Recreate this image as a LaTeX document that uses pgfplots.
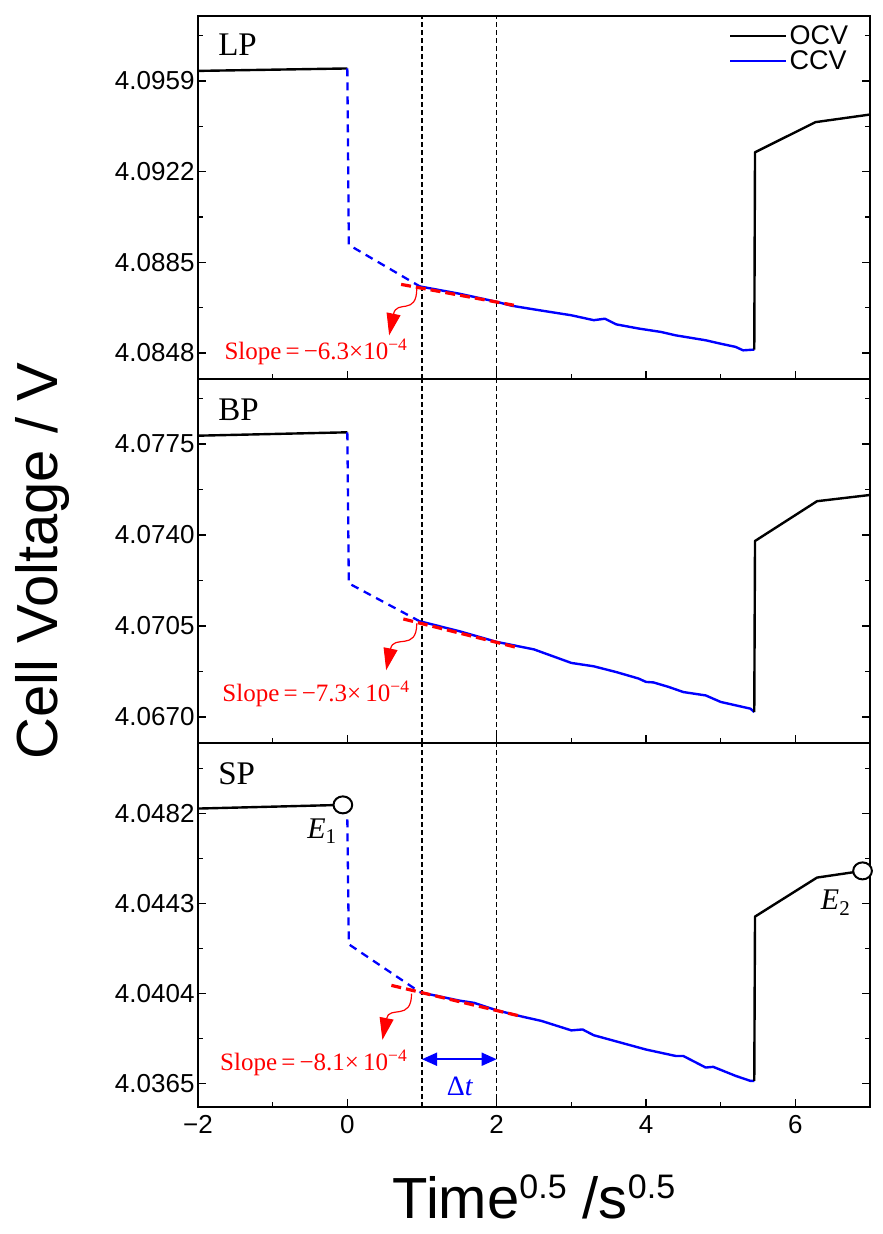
\documentclass[border=0pt]{standalone}
\usepackage{fontspec}
\setmainfont{Liberation Sans}
\newfontfamily\serif{Liberation Serif}
\usepackage{pgfplots}
\pgfplotsset{compat=1.18}
\usetikzlibrary{arrows.meta}

\newcommand\sups[1]{\raisebox{20bp}{\fontsize{34bp}{34bp}\selectfont #1}}

\pgfplotsset{
 panel/.style={
  scale only axis, width=672bp, height=364bp,
  xmin=-2, xmax=7,
  xtick={-2,0,2,4,6}, minor xtick={-1,1,3,5},
  xtick pos=left,
  major tick length=8bp, minor tick length=5bp,
  every tick/.style={black, line width=1.4bp},
  every minor tick/.style={black, line width=1.4bp},
  axis line style={line width=1.9bp},
  tick label style={font=\fontsize{26bp}{30bp}\selectfont},
  xticklabel style={yshift=-5bp},
  clip=false,
 },
}
\tikzset{
 ocv/.style={black, line width=2.4bp, line join=round},
 ccv/.style={blue, line width=2.4bp, line join=round},
 ccvd/.style={blue, line width=2.3bp, dash pattern=on 8bp off 6bp},
 fit/.style={red, line width=3.2bp, dash pattern=on 10bp off 5bp},
 vref/.style={black, line width=1.1bp, dash pattern=on 5bp off 3bp},
 slopetxt/.style={red, font=\serif\fontsize{25bp}{28bp}\selectfont},
 paneltxt/.style={anchor=west, font=\serif\fontsize{33bp}{36bp}\selectfont},
 redarrow/.style={red, line width=1.2bp, -{Triangle[width=14bp,length=22bp]}},
}

\begin{document}
\begin{tikzpicture}
% ---------------- LP ----------------
\begin{axis}[panel, name=lp, at={(0,0)}, anchor=north west, height=363bp,
  ymin=4.08374, ymax=4.09855,
  ytick={4.0848,4.0885,4.0922,4.0959},
  yticklabels={4.0848,4.0885,4.0922,4.0959},
  minor ytick={4.08665,4.09035,4.09405,4.09775},
  xticklabels={},
  legend style={at={(0.975,0.985)}, anchor=north east, draw=none, fill=none,
    font=\fontsize{27bp}{30bp}\selectfont, row sep=1bp, cells={anchor=west}},
  legend image code/.code={\draw[#1] (0bp,0bp) -- (56bp,0bp);},
]
\addlegendimage{ocv}\addlegendentry{OCV}
\addlegendimage{ccv}\addlegendentry{CCV}
\addplot[vref, forget plot] coordinates {(1,4.08374) (1,4.09855)};
\addplot[vref, forget plot] coordinates {(2,4.08374) (2,4.09855)};
\addplot[ocv, forget plot] coordinates {(-2,4.09631) (0,4.09641)};
\addplot[ccvd, forget plot] coordinates {(0,4.09641) (0.02,4.08921) (0.97,4.08752)};
\addplot[ccv, forget plot] coordinates {
 (0.97,4.08752) (1,4.0875) (1.5,4.08722) (2,4.08689) (2.2,4.08673) (2.5,4.08658)
 (3,4.08634) (3.3,4.08614) (3.45,4.0862) (3.6,4.08597) (3.9,4.0858) (4.2,4.08566)
 (4.4,4.08552) (4.8,4.08532) (5.0,4.08518) (5.2,4.08505) (5.3,4.08491) (5.45,4.08494)};
\addplot[ocv, forget plot] coordinates {(5.45,4.08494) (5.46,4.09299) (6.27,4.09422) (7,4.09453)};
\addplot[fit, forget plot] coordinates {(0.72,4.0876) (2.23,4.08675)};
\draw[redarrow] (axis cs:0.93,4.08744) .. controls (axis cs:0.93,4.0863) and (axis cs:0.66,4.0870) .. (axis cs:0.56,4.08552);
\node[slopetxt] at (axis cs:-0.42,4.08484) {Slope\,=\,−6.3×10\textsuperscript{−4}};
\node[paneltxt] at (rel axis cs:0.025,0.92) {LP};
\end{axis}

% ---------------- BP ----------------
\begin{axis}[panel, name=bp, at={(lp.south west)}, anchor=north west,
  ymin=4.0660, ymax=4.0800,
  ytick={4.0670,4.0705,4.0740,4.0775},
  yticklabels={4.0670,4.0705,4.0740,4.0775},
  minor ytick={4.06875,4.07225,4.07575,4.07925},
  xticklabels={},
]
\addplot[vref] coordinates {(1,4.0660) (1,4.0800)};
\addplot[vref] coordinates {(2,4.0660) (2,4.0800)};
\addplot[ocv] coordinates {(-2,4.07782) (0,4.07795)};
\addplot[ccvd] coordinates {(0,4.07795) (0.02,4.07214) (0.97,4.07068)};
\addplot[ccv] coordinates {
 (0.97,4.07068) (1,4.07066) (1.5,4.0703) (2,4.06989) (2.5,4.0696) (3,4.06908)
 (3.3,4.06895) (3.6,4.06873) (3.9,4.06848) (4.0,4.06835) (4.1,4.06833) (4.3,4.06816)
 (4.5,4.06796) (4.8,4.06783) (5.0,4.06758) (5.2,4.06745) (5.4,4.06732) (5.45,4.06719)};
\addplot[ocv] coordinates {(5.45,4.06719) (5.46,4.07377) (6.29,4.0753) (7,4.07554)};
\addplot[fit] coordinates {(0.75,4.07077) (2.25,4.06969)};
\draw[redarrow] (axis cs:0.93,4.0706) .. controls (axis cs:0.93,4.0695) and (axis cs:0.62,4.0702) .. (axis cs:0.52,4.0688);
\node[slopetxt] at (axis cs:-0.42,4.0679) {Slope\,=\,−7.3×\,10\textsuperscript{−4}};
\node[paneltxt] at (rel axis cs:0.025,0.915) {BP};
\end{axis}

% ---------------- SP ----------------
\begin{axis}[panel, name=sp, at={(bp.south west)}, anchor=north west,
  ymin=4.03549, ymax=4.05126,
  ytick={4.0365,4.0404,4.0443,4.0482},
  yticklabels={4.0365,4.0404,4.0443,4.0482},
  minor ytick={4.03845,4.04235,4.04625,4.05015},
  xticklabels={−2,0,2,4,6},
  xlabel={Time\sups{0.5} /s\sups{0.5}},
  xlabel style={font=\fontsize{58bp}{64bp}\selectfont, at={(rel axis cs:0.5,0)}, anchor=base, yshift=-111bp},
]
\addplot[vref] coordinates {(1,4.03549) (1,4.05126)};
\addplot[vref] coordinates {(2,4.03549) (2,4.05126)};
\addplot[ocv] coordinates {(-2,4.04842) (-0.06,4.04858)};
\addplot[ccvd] coordinates {(0,4.04795) (0.02,4.04254) (0.97,4.04047)};
\addplot[ccv] coordinates {
 (0.97,4.04047) (1,4.04044) (1.5,4.0401) (1.7,4.0400) (2,4.03968) (2.35,4.0394)
 (2.6,4.03922) (3.0,4.03881) (3.15,4.03885) (3.3,4.0386) (4.0,4.03798) (4.4,4.0377)
 (4.5,4.0377) (4.8,4.0372) (4.9,4.03723) (5.2,4.03684) (5.4,4.03662) (5.45,4.03662)};
\addplot[ocv] coordinates {(5.45,4.03662) (5.46,4.04374) (6.29,4.04543) (6.9,4.04572)};
\addplot[fit] coordinates {(0.59,4.04076) (2.35,4.0394)};
\addplot[only marks, mark=*, mark size=8.5bp, mark options={fill=white, draw=black, line width=2bp, xscale=1.1}]
  coordinates {(-0.06,4.04858) (6.9,4.04572)};
\draw[redarrow] (axis cs:0.86,4.0404) .. controls (axis cs:0.86,4.0392) and (axis cs:0.56,4.0399) .. (axis cs:0.47,4.0384);
\draw[blue, line width=1.8bp, {Triangle[width=13bp,length=15bp]}-{Triangle[width=13bp,length=15bp]}]
  (axis cs:1,4.03756) -- (axis cs:2,4.03756);
\node[slopetxt] at (axis cs:-0.45,4.03741) {Slope\,=\,−8.1×\,10\textsuperscript{−4}};
\node[blue, font=\serif\fontsize{28bp}{30bp}\selectfont] at (axis cs:1.51,4.0364) {Δ\textit{t}};
\node[font=\serif\fontsize{30bp}{32bp}\selectfont] at (axis cs:-0.34,4.04745) {\textit{E}\textsubscript{1}};
\node[font=\serif\fontsize{30bp}{32bp}\selectfont] at (axis cs:6.54,4.04434) {\textit{E}\textsubscript{2}};
\node[paneltxt] at (rel axis cs:0.025,0.915) {SP};
\end{axis}

\node[rotate=90, anchor=south, font=\fontsize{58bp}{64bp}\selectfont] at ([xshift=-125bp]bp.west) {Cell Voltage / V};

\pgfresetboundingbox
\path ([xshift=-198bp,yshift=16bp]lp.north west) rectangle ([xshift=13bp,yshift=-127bp]sp.south east);
\end{tikzpicture}
\end{document}
